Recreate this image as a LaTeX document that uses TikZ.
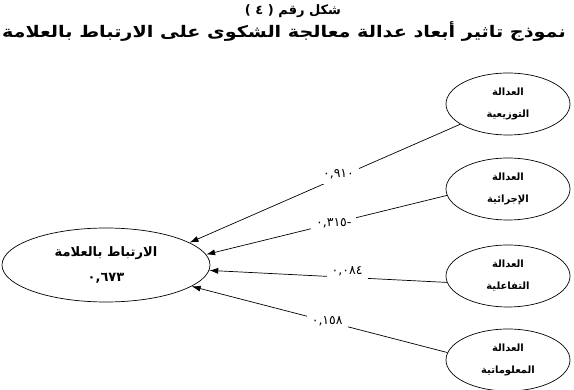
\documentclass[tikz,border=0pt]{standalone}
\usepackage{fontspec}
\newfontfamily\arabicfont[Script=Arabic]{DejaVu Sans}
\newfontfamily\symfont{DejaVu Sans}
\usetikzlibrary{shapes.geometric,arrows.meta}
\newcommand{\arw}[1]{\mbox{\arabicfont #1}}

\begin{document}
\begin{tikzpicture}[x=1pt,y=-1pt,
    dimension/.style={draw,ellipse,line width=0.7pt,minimum width=124pt,minimum height=62pt,
      inner sep=0pt,align=center,font=\arabicfont\bfseries\fontsize{10}{22}\selectfont},
    cible/.style={draw,ellipse,line width=0.7pt,minimum width=208pt,minimum height=74pt,
      inner sep=0pt,align=center,font=\arabicfont\bfseries\fontsize{13}{25}\selectfont},
    effet/.style={-{Latex[length=9pt,width=6pt]},line width=0.7pt},
    coef/.style={fill=white,inner sep=5pt,font=\symfont\fontsize{12.5}{14}\selectfont}]
  \useasboundingbox (0,0) rectangle (574,390);

  % Titre
  \node[font=\arabicfont\bfseries\fontsize{13}{15}\selectfont] (titre1) at (293,11)
    {{\symfont\bfseries ( ٤ )} \arw{رقم} \arw{شكل}};
  \node[font=\arabicfont\bfseries\fontsize{16}{18}\selectfont,xscale=1.2] (titre2) at (284,32)
    {\arw{بالعلامة} \arw{الارتباط} \arw{على} \arw{الشكوى} \arw{معالجة} \arw{عدالة} \arw{أبعاد} \arw{تاثير} \arw{نموذج}};

  % Dimensions de la justice
  \node[dimension] (tawzi) at (508,104) {\arw{العدالة}\\\arw{التوزيعية}};
  \node[dimension] (ijrai) at (508,189) {\arw{العدالة}\\\arw{الإجرائية}};
  \node[dimension] (tafaul) at (508,276) {\arw{العدالة}\\\arw{التفاعلية}};
  \node[dimension] (maalumat) at (508,360) {\arw{العدالة}\\\arw{المعلوماتية}};

  % Variable dependante
  \node[cible] (irtibat) at (106,265) {\arw{بالعلامة} \arw{الارتباط}\\{\symfont\bfseries ٠,٦٧٣}};

  % Effets
  \draw[effet] (tawzi.203) -- node[coef,pos=0.45,yshift=3pt] {٠,٩١٠} (irtibat.15);
  \draw[effet] (ijrai.186) -- node[coef,pos=0.47] {٠,٣١٥-} (irtibat.6);
  \draw[effet] (tafaul.186) -- node[coef,pos=0.42,yshift=6pt] {٠,٠٨٤} (irtibat.-3);
  \draw[effet] (maalumat.173) -- node[coef,pos=0.47] {٠,١٥٨} (irtibat.-14);
\end{tikzpicture}
\end{document}
